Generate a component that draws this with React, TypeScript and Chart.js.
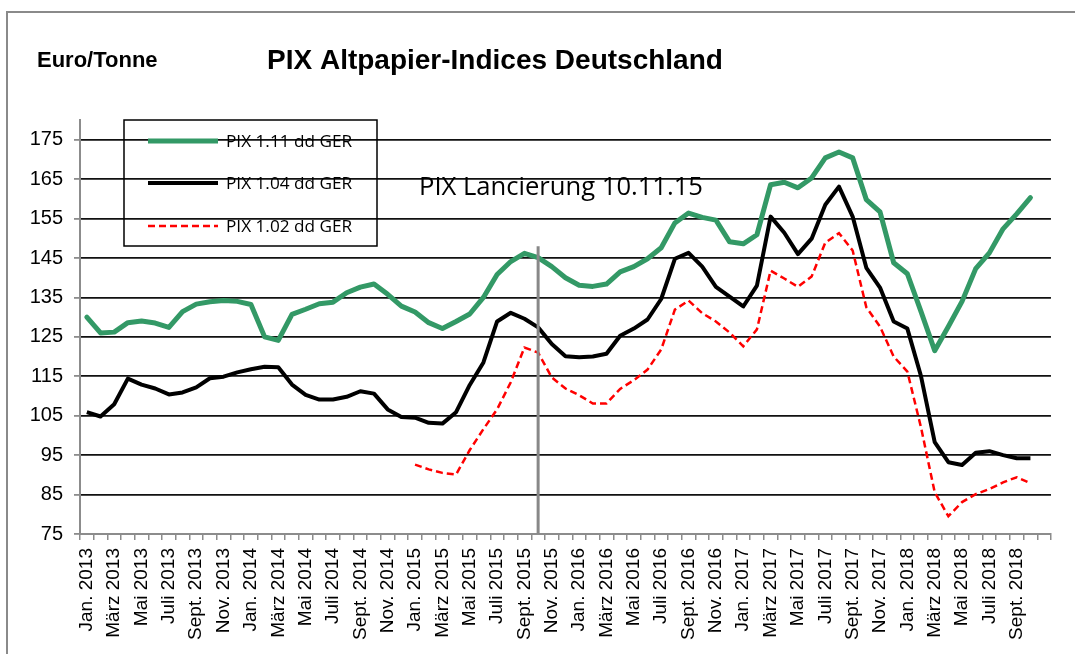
import React, { useEffect, useRef } from "react";
import { Chart, registerables } from "chart.js";

Chart.register(...registerables);

const MONTHS = ["Jan.", "Feb.", "März", "April", "Mai", "Juni", "Juli", "Aug.", "Sept.", "Okt.", "Nov.", "Dez."];
const YEARS = [2013, 2014, 2015, 2016, 2017, 2018];
// 71 monthly categories: Jan. 2013 .. Nov. 2018
const CATEGORIES: string[] = YEARS.flatMap((yr) => MONTHS.map((m) => `${m} ${yr}`)).slice(0, 71);
const LABEL_LAST_INDEX = 68; // Sept. 2018

const PIX_111 = [
  130, 126, 126.2, 128.6, 129, 128.5, 127.4, 131.4, 133.3, 133.9, 134.2, 134,
  133.2, 125, 124.1, 130.7, 132, 133.4, 133.8, 136.2, 137.6, 138.4, 135.8, 132.8,
  131.3, 128.6, 127.1, 128.9, 130.8, 135, 140.8, 144.1, 146.2, 145.1, 142.8, 140,
  138.1, 137.8, 138.4, 141.5, 142.8, 144.8, 147.6, 153.9, 156.4, 155.3, 154.6, 149.1,
  148.6, 150.9, 163.6, 164.2, 162.8, 165.3, 170.4, 171.9, 170.4, 159.8, 156.7, 143.8,
  141, 131.4, 121.5, 127.6, 134, 142.3, 146.3, 152.4, 156.2, 160.3,
];

const PIX_104 = [
  105.9, 104.8, 107.9, 114.4, 112.9, 111.9, 110.4, 110.9, 112.2, 114.5, 114.9, 116,
  116.8, 117.4, 117.3, 112.9, 110.3, 109.1, 109.1, 109.8, 111.2, 110.6, 106.6, 104.7,
  104.5, 103.2, 103, 105.9, 112.8, 118.5, 128.9, 131.1, 129.6, 127.4, 123.2, 120.1,
  119.8, 120, 120.7, 125.3, 127.1, 129.4, 134.6, 144.8, 146.3, 142.8, 137.7, 135.2,
  132.7, 138, 155.5, 151.4, 146, 149.9, 158.5, 163.1, 155.5, 142.5, 137.5, 128.9,
  127.1, 115, 98.3, 93.2, 92.5, 95.6, 96, 95, 94.2, 94.2,
];

const PIX_102: (number | null)[] = [
  null, null, null, null, null, null, null, null, null, null, null, null,
  null, null, null, null, null, null, null, null, null, null, null, null,
  92.6, 91.4, 90.5, 90.1, 96.3, 101.6, 106.6, 113.5, 122.3, 121, 114.7, 111.9,
  110.2, 108.1, 108.1, 111.8, 114, 116.7, 121.8, 131.9, 134.2, 131, 128.9, 126.1,
  122.6, 126.9, 141.8, 139.8, 137.7, 140.3, 148.9, 151.3, 146.9, 132.5, 127.6, 120,
  116.2, 102, 85.6, 79.5, 83.1, 85.1, 86.4, 88.1, 89.4, 87.9,
];

const Y_TICKS = [75, 85, 95, 105, 115, 125, 135, 145, 155, 165, 175];
const Y_MIN = 75;
const Y_MAX = 180;

const LAUNCH_INDEX = 33;
const LAUNCH_TOP_VALUE = 148;
const LAUNCH_TEXT = "PIX Lancierung 10.11.15";

const SERIES_NAMES = ["PIX 1.11 dd GER", "PIX 1.04 dd GER", "PIX 1.02 dd GER"];
const GREEN = "#339966";
const AXIS_GRAY = "#8c8c8c";

const overlayPlugin = {
  id: "overlay",
  afterDatasetsDraw(chart: any) {
    const { ctx } = chart;
    const x = chart.scales.x;
    const y = chart.scales.y;
    ctx.save();
    ctx.strokeStyle = "#888888";
    ctx.lineWidth = 3;
    const lx = x.getPixelForValue(LAUNCH_INDEX);
    ctx.beginPath();
    ctx.moveTo(lx, y.getPixelForValue(LAUNCH_TOP_VALUE));
    ctx.lineTo(lx, y.getPixelForValue(Y_MIN));
    ctx.stroke();
    ctx.restore();
  },
  afterDraw(chart: any) {
    const { ctx } = chart;
    ctx.save();
    // outer frame
    ctx.strokeStyle = "#8a8a8a";
    ctx.lineWidth = 2;
    ctx.beginPath();
    ctx.moveTo(7, 660);
    ctx.lineTo(7, 12);
    ctx.lineTo(1080, 12);
    ctx.stroke();

    // titles
    ctx.fillStyle = "#000";
    ctx.textBaseline = "alphabetic";
    ctx.textAlign = "left";
    ctx.font = "bold 22px 'Liberation Sans', Arial, sans-serif";
    ctx.fillText("Euro/Tonne", 37, 67);
    ctx.font = "bold 28px 'Liberation Sans', Arial, sans-serif";
    ctx.fillText("PIX Altpapier-Indices Deutschland", 267, 69);

    // annotation text
    ctx.font = "25.6px 'Open Sans', sans-serif";
    ctx.textBaseline = "middle";
    ctx.fillText(LAUNCH_TEXT, 419, 188);

    // legend box
    ctx.strokeStyle = "#000";
    ctx.lineWidth = 1.5;
    ctx.strokeRect(124, 120, 253, 126);
    const rows = [141, 183, 226];
    const styles = [
      { color: GREEN, width: 5, dash: [] as number[] },
      { color: "#000", width: 4, dash: [] as number[] },
      { color: "#ff0000", width: 2.5, dash: [7, 4] },
    ];
    ctx.font = "17.2px 'Open Sans', sans-serif";
    rows.forEach((ry, i) => {
      ctx.save();
      ctx.strokeStyle = styles[i].color;
      ctx.lineWidth = styles[i].width;
      ctx.setLineDash(styles[i].dash);
      ctx.beginPath();
      ctx.moveTo(148, ry);
      ctx.lineTo(218, ry);
      ctx.stroke();
      ctx.restore();
      ctx.fillStyle = "#000";
      ctx.fillText(SERIES_NAMES[i], 226, ry + 1);
    });
    ctx.restore();
  },
};

export default function App() {
  const canvasRef = useRef<HTMLCanvasElement | null>(null);

  useEffect(() => {
    const canvas = canvasRef.current;
    if (!canvas) return;
    const chart = new Chart(canvas, {
      type: "line",
      data: {
        labels: CATEGORIES,
        datasets: [
          {
            label: SERIES_NAMES[0],
            data: PIX_111,
            borderColor: GREEN,
            borderWidth: 5,
            pointRadius: 0,
            tension: 0,
            borderJoinStyle: "round",
            borderCapStyle: "round",
          },
          {
            label: SERIES_NAMES[1],
            data: PIX_104,
            borderColor: "#000000",
            borderWidth: 4,
            pointRadius: 0,
            tension: 0,
            borderJoinStyle: "round",
          },
          {
            label: SERIES_NAMES[2],
            data: PIX_102,
            borderColor: "#ff0000",
            borderWidth: 2.5,
            borderDash: [7, 4],
            pointRadius: 0,
            tension: 0,
            spanGaps: false,
          },
        ],
      },
      options: {
        responsive: false,
        animation: false,
        devicePixelRatio: 1,
        layout: { padding: { top: 120, right: 13, left: 0, bottom: 0 } },
        plugins: {
          legend: { display: false },
          tooltip: { enabled: false },
          title: { display: false },
        },
        scales: {
          x: {
            type: "category",
            offset: true,
            grid: {
              offset: true,
              drawOnChartArea: false,
              drawTicks: true,
              tickLength: 6,
              color: AXIS_GRAY,
              lineWidth: 1.5,
            },
            border: { color: AXIS_GRAY, width: 2 },
            ticks: {
              autoSkip: false,
              minRotation: 90,
              maxRotation: 90,
              padding: 8,
              color: "#000",
              font: { family: "'Liberation Sans', Arial, sans-serif", size: 19 },
              callback: (_v: any, i: number) =>
                i % 2 === 0 && i <= LABEL_LAST_INDEX ? CATEGORIES[i] : "",
            },
            afterFit: (scale: any) => {
              scale.height = 120;
            },
          },
          y: {
            min: Y_MIN,
            max: Y_MAX,
            afterBuildTicks: (scale: any) => {
              scale.ticks = Y_TICKS.map((v) => ({ value: v }));
            },
            grid: {
              color: (c: any) => (c.tick && c.tick.value === Y_MIN ? "rgba(0,0,0,0)" : "#111111"),
              lineWidth: 1.8,
              tickColor: AXIS_GRAY,
              tickLength: 6,
            },
            border: { color: AXIS_GRAY, width: 2 },
            ticks: {
              padding: 11,
              color: "#000",
              font: { family: "'Liberation Sans', Arial, sans-serif", size: 20 },
            },
            afterFit: (scale: any) => {
              scale.width = 80;
            },
          },
        },
      },
      plugins: [overlayPlugin],
    } as any);
    return () => chart.destroy();
  }, []);

  return (
    <div style={{ position: "absolute", left: 0, top: 0, width: 1075, height: 654, background: "#fff" }}>
      <canvas ref={canvasRef} width={1075} height={654} style={{ display: "block" }} />
    </div>
  );
}
